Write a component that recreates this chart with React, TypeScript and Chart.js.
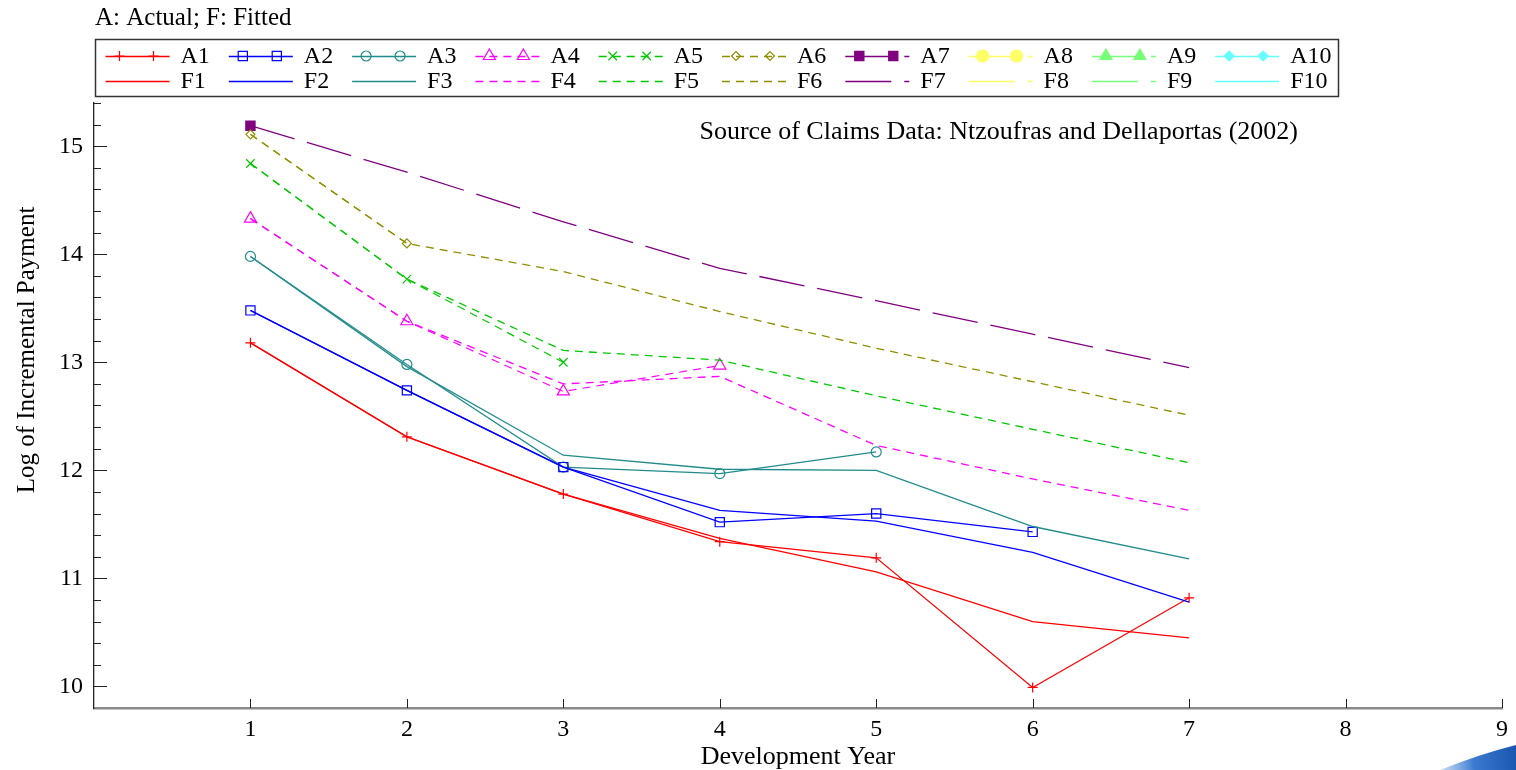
import React, { useEffect, useRef } from 'react';
import { Chart, registerables } from 'chart.js';
import { drawPoint } from 'chart.js/helpers';

Chart.register(...registerables);

// ---------- data ----------
const devYears = [1, 2, 3, 4, 5, 6, 7];
const xTickValues = [1, 2, 3, 4, 5, 6, 7, 8, 9];
const yTickValues = [10, 11, 12, 13, 14, 15];

const actual1 = [13.18, 12.31, 11.78, 11.34, 11.19, 9.99, 10.82];
const actual2 = [13.48, 12.74, 12.03, 11.52, 11.6, 11.43];
const actual3 = [13.98, 12.98, 12.03, 11.97, 12.17];
const actual4 = [14.33, 13.38, 12.73, 12.97];
const actual5 = [14.84, 13.77, 13.0];
const actual6 = [15.11, 14.1];
const actual7 = [15.19];
const actual8: number[] = [];
const actual9: number[] = [];
const actual10: number[] = [];

const fitted1 = [13.18, 12.31, 11.78, 11.37, 11.06, 10.6, 10.45];
const fitted2 = [13.48, 12.74, 12.03, 11.63, 11.53, 11.24, 10.78];
const fitted3 = [13.98, 12.96, 12.14, 12.01, 12.0, 11.48, 11.18];
const fitted4 = [14.33, 13.38, 12.8, 12.87, 12.23, 11.92, 11.63];
const fitted5 = [14.84, 13.77, 13.11, 13.02, 12.69, 12.38, 12.07];
const fitted6 = [15.11, 14.1, 13.84, 13.47, 13.13, 12.82, 12.51];
const fitted7 = [15.19, 14.76, 14.3, 13.87, 13.57, 13.26, 12.95];
const fitted8: number[] = [];
const fitted9: number[] = [];
const fitted10: number[] = [];

const actualSeries = [actual1, actual2, actual3, actual4, actual5, actual6, actual7, actual8, actual9, actual10];
const fittedSeries = [fitted1, fitted2, fitted3, fitted4, fitted5, fitted6, fitted7, fitted8, fitted9, fitted10];
const actualLabels = ['A1', 'A2', 'A3', 'A4', 'A5', 'A6', 'A7', 'A8', 'A9', 'A10'];
const fittedLabels = ['F1', 'F2', 'F3', 'F4', 'F5', 'F6', 'F7', 'F8', 'F9', 'F10'];

const chartTitle = 'A: Actual; F: Fitted';
const sourceNote = 'Source of Claims Data: Ntzoufras and Dellaportas (2002)';
const xTitle = 'Development Year';
const yTitle = 'Log of Incremental Payment';

// ---------- styles ----------
const seriesColors = ['#ff0000', '#0000ff', '#228b8b', '#ff00ff', '#00c800', '#8f8f00', '#800080', '#ffff66', '#77ff77', '#66ffff'];
const pointStyles = ['cross', 'rect', 'circle', 'triangle', 'crossRot', 'rectRot', 'rect', 'circle', 'triangle', 'rectRot'];
const pointFilled = [false, false, false, false, false, false, true, true, true, true];
const pointRadii = [5, 6.5, 5, 7, 6, 4.5, 6.5, 6, 7, 5];
const dashPatterns = [[], [], [], [8, 6], [8, 6], [8, 6], [46, 13], [46, 13], [46, 13], []];
const FONT = 'Liberation Serif, Times New Roman, serif';

const toPoints = (vals: number[]) => vals.map((v, i) => ({ x: devYears[i], y: v }));

const decorPlugin = {
  id: 'decor',
  afterDraw(chart: any) {
    const ctx: CanvasRenderingContext2D = chart.ctx;
    const xs = chart.scales.x;
    const ys = chart.scales.y;
    const area = chart.chartArea;
    ctx.save();

    // inward y ticks (major + minor)
    ctx.strokeStyle = '#222';
    ctx.lineWidth = 1;
    const yMin = ys.min;
    const yMax = ys.max;
    const steps = Math.round((yMax - yMin) / 0.2);
    for (let k = 1; k <= steps; k++) {
      const v = yMin + k * 0.2;
      const py = Math.round(ys.getPixelForValue(v)) + 0.5;
      const major = Math.abs(v - Math.round(v)) < 1e-6;
      ctx.beginPath();
      ctx.moveTo(area.left, py);
      ctx.lineTo(area.left + (major ? 13 : 7), py);
      ctx.stroke();
    }
    // inward x ticks
    xTickValues.forEach((v) => {
      const px = Math.round(xs.getPixelForValue(v)) + 0.5;
      ctx.beginPath();
      ctx.moveTo(px, area.bottom);
      ctx.lineTo(px, area.bottom - 9);
      ctx.stroke();
    });

    // header title
    ctx.fillStyle = '#000';
    ctx.font = `25px ${FONT}`;
    ctx.textAlign = 'left';
    ctx.textBaseline = 'middle';
    ctx.fillText(chartTitle, 95, 18);

    // source note
    ctx.font = `26px ${FONT}`;
    ctx.textAlign = 'right';
    ctx.fillText(sourceNote, 1298, 132);

    // y axis title
    ctx.save();
    ctx.translate(27, 350);
    ctx.rotate(-Math.PI / 2);
    ctx.textAlign = 'center';
    ctx.font = `25px ${FONT}`;
    ctx.fillText(yTitle, 0, 0);
    ctx.restore();

    // legend box
    ctx.fillStyle = '#fff';
    ctx.fillRect(95, 39, 1243, 57);
    ctx.strokeStyle = '#333';
    ctx.lineWidth = 1.5;
    ctx.strokeRect(95.5, 39.5, 1243, 57);

    const rows = [
      { y: 56, labels: actualLabels, markers: true },
      { y: 81, labels: fittedLabels, markers: false },
    ];
    ctx.font = `24px ${FONT}`;
    ctx.textAlign = 'left';
    ctx.textBaseline = 'middle';
    rows.forEach((row) => {
      row.labels.forEach((lab, i) => {
        const x0 = 105.5 + i * 123.3;
        const color = seriesColors[i];
        ctx.strokeStyle = color;
        ctx.lineWidth = 1.3;
        ctx.setLineDash(dashPatterns[i]);
        ctx.beginPath();
        ctx.moveTo(x0, row.y + 0.5);
        ctx.lineTo(x0 + 64, row.y + 0.5);
        ctx.stroke();
        ctx.setLineDash([]);
        if (row.markers) {
          [x0 + 14, x0 + 48].forEach((mx) => {
            ctx.fillStyle = pointFilled[i] ? color : 'rgba(0,0,0,0)';
            ctx.strokeStyle = color;
            ctx.lineWidth = 1.2;
            drawPoint(ctx, { pointStyle: pointStyles[i], radius: pointRadii[i], rotation: 0, borderWidth: 1.2 } as any, mx, row.y);
          });
        }
        ctx.fillStyle = '#000';
        ctx.fillText(lab, x0 + 75, row.y + 1);
      });
    });

    // slide decoration bottom-right
    const g = ctx.createLinearGradient(1430, 760, 1516, 750);
    g.addColorStop(0, 'rgba(120,170,230,0.2)');
    g.addColorStop(0.5, '#3b7ad0');
    g.addColorStop(1, '#1a56b0');
    ctx.fillStyle = g;
    ctx.beginPath();
    ctx.moveTo(1440, 770);
    ctx.quadraticCurveTo(1480, 754, 1516, 745);
    ctx.lineTo(1516, 770);
    ctx.closePath();
    ctx.fill();

    ctx.restore();
  },
};

export default function App() {
  const canvasRef = useRef<HTMLCanvasElement | null>(null);

  useEffect(() => {
    const canvas = canvasRef.current;
    if (!canvas) return;
    Chart.defaults.font.family = FONT;
    Chart.defaults.color = '#000';

    const datasets: any[] = [];
    for (let i = 0; i < 10; i++) {
      datasets.push({
        label: fittedLabels[i],
        data: toPoints(fittedSeries[i]),
        borderColor: seriesColors[i],
        borderWidth: 1.3,
        borderDash: dashPatterns[i],
        pointRadius: 0,
        fill: false,
        tension: 0,
      });
    }
    for (let i = 0; i < 10; i++) {
      datasets.push({
        label: actualLabels[i],
        data: toPoints(actualSeries[i]),
        borderColor: seriesColors[i],
        borderWidth: 1.2,
        borderDash: dashPatterns[i],
        pointStyle: pointStyles[i],
        pointRadius: pointRadii[i],
        pointBorderWidth: 1.2,
        pointBorderColor: seriesColors[i],
        pointBackgroundColor: pointFilled[i] ? seriesColors[i] : 'rgba(0,0,0,0)',
        fill: false,
        tension: 0,
      });
    }

    const chart = new Chart(canvas, {
      type: 'line',
      data: { datasets },
      options: {
        responsive: false,
        animation: false,
        layout: { padding: { left: 0, right: 14, top: 103, bottom: 0 } },
        plugins: { legend: { display: false }, tooltip: { enabled: false }, title: { display: false } },
        scales: {
          x: {
            type: 'linear',
            position: 'bottom',
            min: 0,
            max: 9,
            afterBuildTicks: (axis: any) => {
              axis.ticks = xTickValues.map((v) => ({ value: v }));
            },
            afterFit: (scale: any) => {
              scale.height = 62;
            },
            grid: { display: true, drawOnChartArea: false, drawTicks: false },
            border: { display: true, color: '#8a8a8a', width: 2.5 },
            ticks: { font: { size: 24, family: FONT }, color: '#000', padding: 7, autoSkip: false, maxRotation: 0 },
            title: { display: true, text: xTitle, font: { size: 26, family: FONT, lineHeight: 1 }, color: '#000', padding: { top: 0, bottom: 0 } },
          },
          y: {
            type: 'linear',
            position: 'left',
            min: 9.8,
            max: 15.4,
            afterBuildTicks: (axis: any) => {
              axis.ticks = yTickValues.map((v) => ({ value: v }));
            },
            afterFit: (scale: any) => {
              scale.width = 94;
            },
            grid: { display: true, drawOnChartArea: false, drawTicks: false },
            border: { display: true, color: '#222', width: 1.3 },
            ticks: { font: { size: 24, family: FONT }, color: '#000', padding: 11 },
            title: { display: false },
          },
        },
      },
      plugins: [decorPlugin],
    });

    return () => chart.destroy();
  }, []);

  return (
    <div style={{ position: 'absolute', left: 0, top: 0, width: 1516, height: 770, background: '#fff' }}>
      <canvas ref={canvasRef} width={1516} height={770} style={{ display: 'block' }} />
    </div>
  );
}
